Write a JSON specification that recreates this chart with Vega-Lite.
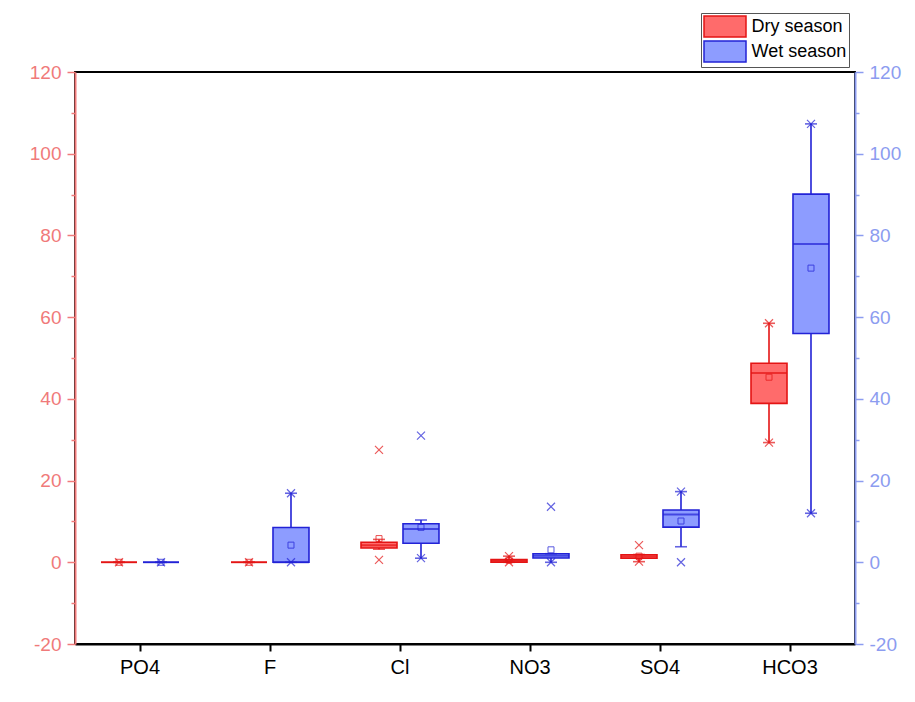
{
  "$schema": "https://vega.github.io/schema/vega-lite/v6.json",
  "width": 780,
  "height": 572,
  "autosize": {"type": "none"},
  "padding": {"left": 75, "top": 72, "right": 60, "bottom": 58},
  "background": "white",
  "config": {
    "font": "Liberation Sans",
    "view": {"stroke": "black", "strokeWidth": 2}
  },
  "datasets": {
    "boxes": [
      {"ion": "PO4", "season": "Dry season", "min": 0, "q1": 0, "median": 0, "q3": 0, "max": 0, "mean": 0},
      {"ion": "PO4", "season": "Wet season", "min": 0, "q1": 0, "median": 0, "q3": 0, "max": 0, "mean": 0},
      {"ion": "F", "season": "Dry season", "min": 0, "q1": 0, "median": 0, "q3": 0, "max": 0, "mean": 0},
      {"ion": "F", "season": "Wet season", "min": 0, "q1": 0, "median": 0, "q3": 8.5, "max": 16.9, "mean": 4.2},
      {"ion": "Cl", "season": "Dry season", "min": 3.2, "q1": 3.5, "median": 4.2, "q3": 4.9, "max": 5.6, "mean": 5.8},
      {"ion": "Cl", "season": "Wet season", "min": 1.0, "q1": 4.65, "median": 8.15, "q3": 9.45, "max": 10.35, "mean": 8.55},
      {"ion": "NO3", "season": "Dry season", "min": 0, "q1": 0, "median": 0.3, "q3": 0.65, "max": 1.5, "mean": 0.5},
      {"ion": "NO3", "season": "Wet season", "min": 0, "q1": 1.05, "median": 1.6, "q3": 2.1, "max": 2.1, "mean": 3.05},
      {"ion": "SO4", "season": "Dry season", "min": 0.15, "q1": 1.0, "median": 1.4, "q3": 1.85, "max": 1.9, "mean": 1.5},
      {"ion": "SO4", "season": "Wet season", "min": 3.8, "q1": 8.6, "median": 11.7, "q3": 12.8, "max": 17.3, "mean": 10.1},
      {"ion": "HCO3", "season": "Dry season", "min": 29.3, "q1": 38.9, "median": 46.3, "q3": 48.7, "max": 58.5, "mean": 45.3},
      {"ion": "HCO3", "season": "Wet season", "min": 12.0, "q1": 56.0, "median": 77.9, "q3": 90.1, "max": 107.3, "mean": 72.0}
    ],
    "pts": [
      {"ion": "PO4", "season": "Dry season", "value": 0},
      {"ion": "PO4", "season": "Wet season", "value": 0},
      {"ion": "F", "season": "Dry season", "value": 0},
      {"ion": "F", "season": "Wet season", "value": 16.9},
      {"ion": "F", "season": "Wet season", "value": 0},
      {"ion": "Cl", "season": "Dry season", "value": 27.5},
      {"ion": "Cl", "season": "Dry season", "value": 0.6},
      {"ion": "Cl", "season": "Wet season", "value": 31.0},
      {"ion": "Cl", "season": "Wet season", "value": 1.0},
      {"ion": "NO3", "season": "Dry season", "value": 1.5},
      {"ion": "NO3", "season": "Dry season", "value": 0},
      {"ion": "NO3", "season": "Wet season", "value": 13.6},
      {"ion": "NO3", "season": "Wet season", "value": 0},
      {"ion": "SO4", "season": "Dry season", "value": 4.2},
      {"ion": "SO4", "season": "Dry season", "value": 0.15},
      {"ion": "SO4", "season": "Wet season", "value": 17.3},
      {"ion": "SO4", "season": "Wet season", "value": 0},
      {"ion": "HCO3", "season": "Dry season", "value": 58.5},
      {"ion": "HCO3", "season": "Dry season", "value": 29.3},
      {"ion": "HCO3", "season": "Wet season", "value": 107.3},
      {"ion": "HCO3", "season": "Wet season", "value": 12.0}
    ]
  },
  "encoding": {
    "x": {
      "field": "ion", "type": "nominal", "title": null,
      "sort": ["PO4", "F", "Cl", "NO3", "SO4", "HCO3"],
      "scale": {"domain": ["PO4", "F", "Cl", "NO3", "SO4", "HCO3"], "paddingInner": 0, "paddingOuter": 0},
      "axis": {
        "labelAngle": 0, "labelFontSize": 20, "labelColor": "black", "labelPadding": 6,
        "domainColor": "black", "domainWidth": 2, "tickColor": "black", "tickWidth": 2, "tickSize": 7, "grid": false
      }
    },
    "xOffset": {
      "field": "season", "type": "nominal",
      "scale": {"domain": ["Dry season", "Wet season"], "paddingInner": 0, "paddingOuter": 0.548}
    }
  },
  "layer": [
    {
      "data": {"name": "boxes"},
      "mark": {"type": "rule", "strokeWidth": 1.6},
      "encoding": {
        "y": {
          "field": "min", "type": "quantitative",
          "scale": {"domain": [-20, 120], "nice": false, "zero": false},
          "axis": {
            "orient": "left", "title": null, "grid": false,
            "values": [-20, -10, 0, 10, 20, 30, 40, 50, 60, 70, 80, 90, 100, 110, 120],
            "labelExpr": "datum.value % 20 === 0 ? '' + datum.value : ''",
            "labelFontSize": 19, "labelColor": "#F07A7A", "labelPadding": 6,
            "domainColor": "#F07A7A", "domainWidth": 2,
            "tickColor": "#F07A7A", "tickWidth": 1.5,
            "tickSize": {"condition": {"test": "datum.value % 20 !== 0", "value": 4}, "value": 8}
          }
        },
        "y2": {"field": "max"},
        "color": {
          "field": "season", "type": "nominal", "legend": null,
          "scale": {"range": ["#E41414", "#2222D6"]}
        }
      }
    },
    {
      "data": {"name": "boxes"},
      "mark": {"type": "bar", "width": 36, "strokeWidth": 1.6, "fillOpacity": 1},
      "encoding": {
        "y": {
          "field": "q1", "type": "quantitative",
          "scale": {"domain": [-20, 120], "nice": false, "zero": false},
          "axis": {
            "orient": "right", "title": null, "grid": false,
            "values": [-20, -10, 0, 10, 20, 30, 40, 50, 60, 70, 80, 90, 100, 110, 120],
            "labelExpr": "datum.value % 20 === 0 ? '' + datum.value : ''",
            "labelFontSize": 19, "labelColor": "#8C9CF0", "labelPadding": 6,
            "domainColor": "#8C9CF0", "domainWidth": 2,
            "tickColor": "#8C9CF0", "tickWidth": 1.5,
            "tickSize": {"condition": {"test": "datum.value % 20 !== 0", "value": 4}, "value": 8}
          }
        },
        "y2": {"field": "q3"},
        "fill": {
          "field": "season", "type": "nominal",
          "scale": {"domain": ["Dry season", "Wet season"], "range": ["#FF6B6B", "#8D9CFF"]},
          "legend": {
            "title": null, "orient": "none", "legendX": 626, "legendY": -59,
            "symbolType": "M-2,-1H2V1H-2Z", "symbolSize": 441, "symbolStrokeWidth": 1.5,
            "symbolOffset": 10.5,
            "symbolOpacity": 1, "labelFontSize": 18, "labelColor": "black", "labelOffset": 15,
            "padding": 2, "rowPadding": -5, "strokeColor": "#555555", "fillColor": "white"
          }
        },
        "stroke": {
          "field": "season", "type": "nominal",
          "scale": {"domain": ["Dry season", "Wet season"], "range": ["#E41414", "#2222D6"]},
          "legend": {
            "title": null, "orient": "none", "legendX": 626, "legendY": -59,
            "symbolType": "M-2,-1H2V1H-2Z", "symbolSize": 441, "symbolStrokeWidth": 1.5,
            "symbolOffset": 10.5,
            "symbolOpacity": 1, "labelFontSize": 18, "labelColor": "black", "labelOffset": 15,
            "padding": 2, "rowPadding": -5, "strokeColor": "#555555", "fillColor": "white"
          }
        }
      }
    },
    {
      "data": {"name": "boxes"},
      "mark": {"type": "tick", "size": 36, "thickness": 2},
      "encoding": {
        "y": {"field": "median", "type": "quantitative", "axis": null},
        "color": {"field": "season", "type": "nominal", "legend": null}
      }
    },
    {
      "data": {"name": "boxes"},
      "mark": {"type": "tick", "size": 12, "thickness": 1.6},
      "encoding": {
        "y": {"field": "max", "type": "quantitative", "axis": null},
        "color": {"field": "season", "type": "nominal", "legend": null}
      }
    },
    {
      "data": {"name": "boxes"},
      "mark": {"type": "tick", "size": 12, "thickness": 1.6},
      "encoding": {
        "y": {"field": "min", "type": "quantitative", "axis": null},
        "color": {"field": "season", "type": "nominal", "legend": null}
      }
    },
    {
      "data": {"name": "boxes"},
      "mark": {"type": "point", "shape": "square", "size": 36, "filled": false, "strokeWidth": 1, "opacity": 0.75},
      "encoding": {
        "y": {"field": "mean", "type": "quantitative", "axis": null},
        "color": {"field": "season", "type": "nominal", "legend": null}
      }
    },
    {
      "data": {"name": "pts"},
      "mark": {"type": "point", "shape": "M-1,-1L1,1M-1,1L1,-1", "size": 64, "filled": false, "strokeWidth": 1.2, "opacity": 0.7},
      "encoding": {
        "y": {"field": "value", "type": "quantitative", "axis": null},
        "color": {"field": "season", "type": "nominal", "legend": null}
      }
    }
  ],
  "resolve": {"axis": {"y": "independent"}}
}
